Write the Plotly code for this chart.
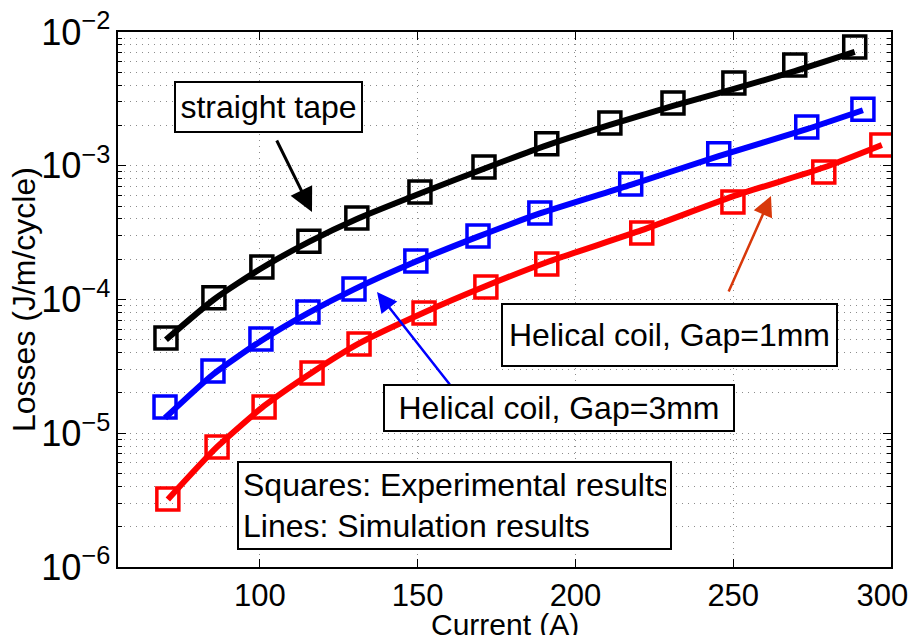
import plotly.graph_objects as go

# ---- data ----
current_straight = [70.2, 85.4, 100.6, 115.5, 130.7, 150.7, 171.0, 190.9, 210.9, 230.9, 250.2, 269.5, 288.5]
exp_straight = [5.15e-5, 1.03e-4, 1.75e-4, 2.73e-4, 4.06e-4, 6.37e-4, 9.8e-4, 1.46e-3, 2.09e-3, 2.94e-3, 4.16e-3, 5.67e-3, 7.72e-3]
sim_straight = [5.0e-5, 1.0e-4, 1.72e-4, 2.7e-4, 4.0e-4, 6.2e-4, 9.5e-4, 1.42e-3, 2.02e-3, 2.8e-3, 3.75e-3, 5.1e-3, 7.1e-3]

current_gap3 = [69.9, 85.1, 100.3, 115.2, 129.8, 149.4, 169.1, 188.7, 217.5, 245.4, 273.3, 291.1]
exp_gap3 = [1.57e-5, 2.92e-5, 5.07e-5, 8.07e-5, 1.20e-4, 1.94e-4, 2.99e-4, 4.43e-4, 7.31e-4, 1.23e-3, 1.95e-3, 2.65e-3]
sim_gap3 = [1.3e-5, 2.75e-5, 4.9e-5, 7.9e-5, 1.19e-4, 1.92e-4, 2.95e-4, 4.4e-4, 7.2e-4, 1.18e-3, 1.88e-3, 2.6e-3]

current_gap1 = [70.8, 86.4, 101.3, 116.5, 131.4, 152.0, 171.6, 190.9, 221.0, 249.9, 278.7, 297.1]
exp_gap1 = [3.22e-6, 7.89e-6, 1.57e-5, 2.82e-5, 4.64e-5, 7.92e-5, 1.24e-4, 1.84e-4, 3.14e-4, 5.36e-4, 8.98e-4, 1.43e-3]
sim_gap1 = [3.2e-6, 7.9e-6, 1.6e-5, 2.85e-5, 4.7e-5, 8.0e-5, 1.26e-4, 1.9e-4, 3.3e-4, 5.9e-4, 9.7e-4, 1.43e-3]

x_ticks = [100, 150, 200, 250, 300]
x_ticktext = ["100", "150", "200", "250", "300\u00a0\u00a0"]
x_title = "Current (A)"
y_title = "Losses (J/m/cycle)"

FONT = "Liberation Sans, Arial, Helvetica, sans-serif"
FS = 32

fig = go.Figure()

series = [
    (current_straight, exp_straight, sim_straight, "#000000", "straight tape"),
    (current_gap3, exp_gap3, sim_gap3, "#0000FF", "Helical coil, Gap=3mm"),
    (current_gap1, exp_gap1, sim_gap1, "#FF0000", "Helical coil, Gap=1mm"),
]
for cur, exp, sim, col, name in series:
    fig.add_trace(go.Scatter(x=cur, y=sim, mode="lines", name=name + " (sim)",
                             line=dict(color=col, width=6, shape="spline", smoothing=0.6),
                             showlegend=False))
    fig.add_trace(go.Scatter(x=cur, y=exp, mode="markers", name=name + " (exp)",
                             marker=dict(symbol="square-open", size=22, color=col,
                                         line=dict(color=col, width=3.5)),
                             showlegend=False))

# page has an 8px body margin: size the figure so it fits the 921x643 window
PAGE_OFF = 8
W, H = 921 - 2 * PAGE_OFF, 643 - 2 * PAGE_OFF
# plot area in window pixels
L, R, T, B = 118, 891, 32, 567


def px(x):
    return (x - L) / (R - L)


def py(y):
    return (B - y) / (B - T)


def box(text, x0, y0, x1, y1, align="center"):
    bw = 2
    fig.add_annotation(xref="paper", yref="paper", x=px((x0 + x1) / 2), y=py((y0 + y1) / 2),
                       xanchor="center", yanchor="middle", showarrow=False,
                       text=text, align=align,
                       width=(x1 - x0) - 2 * bw - 8, height=(y1 - y0) - 2 * bw - 8,
                       borderpad=4, borderwidth=bw, bordercolor="#000000", bgcolor="#FFFFFF",
                       font=dict(family=FONT, size=FS, color="#000000"))


def arrow(hx, hy, tx, ty, col, w, s):
    fig.add_annotation(xref="paper", yref="paper", x=px(hx), y=py(hy),
                       ax=tx - hx, ay=ty - hy, axref="pixel", ayref="pixel",
                       text="", showarrow=True, arrowhead=2, arrowsize=s,
                       arrowwidth=w, arrowcolor=col, standoff=0)


arrow(312, 212, 276, 139, "#000000", 3, 1.6)
arrow(771, 196, 728, 293, "#D8380A", 2.5, 1.6)
arrow(377, 292, 451, 386, "#0000FF", 2.5, 1.6)

box("straight tape", 174, 81, 363, 133)
box("Helical coil, Gap=1mm", 501, 303, 838, 367)
box("Helical coil, Gap=3mm", 383, 384, 735, 432)
box("Squares: Experimental results<br>Lines: Simulation results", 237, 461, 672, 550, align="left")

# axis titles
fig.add_annotation(xref="paper", yref="paper", x=px(505), y=py(624), xanchor="center", yanchor="middle",
                   showarrow=False, text=x_title, font=dict(family=FONT, size=30, color="#000"))
fig.add_annotation(xref="paper", yref="paper", x=px(24), y=py(300), xanchor="center", yanchor="middle",
                   showarrow=False, text=y_title, textangle=-90,
                   font=dict(family=FONT, size=FS, color="#000"))

fig.update_xaxes(range=[55, 300], tickmode="array", tickvals=x_ticks, ticktext=x_ticktext,
                 ticks="inside", ticklen=8, tickcolor="#000", tickwidth=1,
                 showline=True, linecolor="#000", linewidth=1.5, mirror="allticks",
                 zeroline=False, automargin=False, ticklabeloverflow="allow",
                 tickfont=dict(family=FONT, size=31, color="#000"),
                 showgrid=True, gridcolor="#8c8c8c", gridwidth=1, griddash="1px,5px")

fig.update_yaxes(type="log", range=[-6, -2], dtick=1, exponentformat="power", showexponent="all",
                 ticks="inside", ticklen=8, tickcolor="#000", tickwidth=1,
                 minor=dict(dtick="D1", ticks="inside", ticklen=4, tickcolor="#000",
                            showgrid=True, gridcolor="#8c8c8c", gridwidth=1, griddash="1px,5px"),
                 showline=True, linecolor="#000", linewidth=1.5, mirror="allticks",
                 zeroline=False, automargin=False, ticklabeloverflow="allow",
                 tickfont=dict(family=FONT, size=29, color="#000"),
                 showgrid=True, gridcolor="#8c8c8c", gridwidth=1, griddash="1px,5px")

fig.update_layout(width=W, height=H,
                  margin=dict(l=L - PAGE_OFF, r=(921 - PAGE_OFF) - R,
                              t=T - PAGE_OFF, b=(643 - PAGE_OFF) - B),
                  paper_bgcolor="#FFFFFF", plot_bgcolor="#FFFFFF",
                  font=dict(family=FONT, size=FS, color="#000"), showlegend=False)

fig.write_html("out.html")
